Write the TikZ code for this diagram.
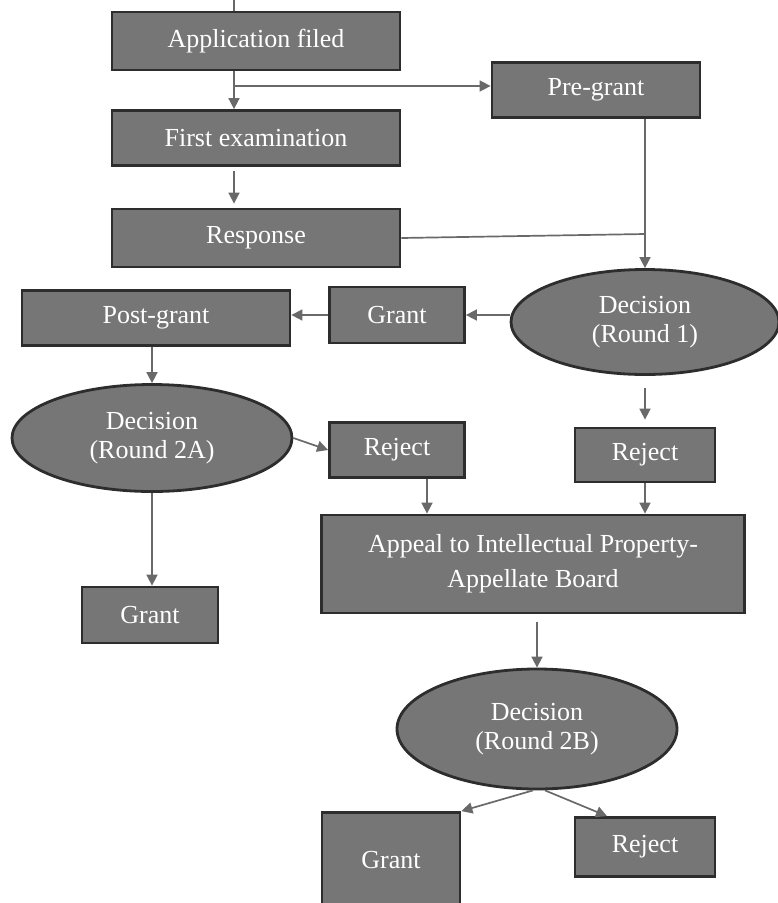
\documentclass[tikz,border=0pt]{standalone}
\usepackage{fontspec}
\setmainfont{Liberation Serif}
\usetikzlibrary{%
  shapes, shapes.geometric, arrows.meta,
  calc, positioning,
}
\definecolor{boxGray} {RGB}{118,118,118}
\definecolor{edgeGray}{RGB}{ 45, 45, 45}
\definecolor{lineGray}{RGB}{105,105,105}

\begin{document}
\begin{tikzpicture}[
  x=1pt, y=-1pt,
  box/.style={rectangle, fill=boxGray, draw=edgeGray, line width=2.8pt,
    text=white, align=center, inner sep=0pt,
    font=\fontsize{26}{30}\selectfont},
  dec/.style={ellipse, fill=boxGray, draw=edgeGray, line width=2.8pt,
    text=white, align=center, inner sep=0pt,
    font=\fontsize{26}{29}\selectfont},
  arr/.style={-{Triangle[length=11pt,width=11pt]}, draw=lineGray, line width=1.7pt},
  lin/.style={draw=lineGray, line width=1.7pt},
]
\useasboundingbox (0,0) rectangle (778,903);
\clip (0,0) rectangle (778,903);

%% ── Filing and examination ──────────────────────────────────────────────────
\node[box, minimum width=288pt, minimum height=58pt] (app)  at (256,41)  {Application filed};
\node[box, minimum width=288pt, minimum height=55pt] (exam) at (256,138) {First examination};
\node[box, minimum width=288pt, minimum height=58pt] (resp) at (256,238) {Response};
\node[box, minimum width=208pt, minimum height=55pt] (pre)  at (596,90)  {Pre-grant};

\coordinate (stub)  at (234,0);
\coordinate (split) at (234,86);
\coordinate (join)  at (645,234);

\draw[lin] (stub) -- (stub |- app.north);
\draw[arr] ([xshift=-22pt]app.south) -- ([xshift=-22pt]exam.north);
\draw[arr] (split) -- (split -| pre.west);
\draw[arr] ([xshift=-22pt,yshift=-4pt]exam.south) -- ([xshift=-22pt,yshift=4pt]resp.north);

%% ── Round 1 ─────────────────────────────────────────────────────────────────
\node[dec, minimum width=268pt, minimum height=105pt] (decA) at (645,322) {Decision\\(Round 1)};
\node[box, minimum width=135pt, minimum height=56pt] (grantA) at (397,315) {Grant};
\node[box, minimum width=268pt, minimum height=55pt] (post)   at (156,318) {Post-grant};
\node[box, minimum width=140pt, minimum height=54pt] (rejA)   at (645,455) {Reject};

\draw[arr] (pre.south -| decA.north) -- (decA.north);
\draw[lin] (resp.east) -- (join);
\draw[arr] (decA.west |- grantA.east) -- (grantA.east);
\draw[arr] (grantA.west) -- (grantA.west -| post.east);
\draw[arr] ([yshift=-12pt]decA.south) -- ([yshift=7pt]rejA.north);

%% ── Round 2A ────────────────────────────────────────────────────────────────
\node[dec, minimum width=280pt, minimum height=107pt] (decB) at (152,438) {Decision\\(Round 2A)};
\node[box, minimum width=135pt, minimum height=55pt] (rejB)   at (397,450) {Reject};
\node[box, minimum width=136pt, minimum height=56pt] (grantB) at (150,615) {Grant};

\draw[arr] (post.south -| decB.north) -- (decB.north);
\draw[arr] (decB.east) -- (rejB.west);
\draw[arr] (decB.south) -- (decB.south |- grantB.north);

%% ── Appeal and round 2B ─────────────────────────────────────────────────────
\node[box, minimum width=423pt, minimum height=98pt] (appeal) at (533,564)
  {Appeal to Intellectual Property-\\[5pt]Appellate Board};
\node[dec, minimum width=280pt, minimum height=120pt] (decC) at (537,729) {Decision\\(Round 2B)};
\node[box, minimum width=138pt, minimum height=95pt] (grantC) at (391,860) {Grant};
\node[box, minimum width=140pt, minimum height=59pt] (rejC)   at (645,847) {Reject};

\draw[arr] ([xshift=30pt]rejB.south) -- ([xshift=30pt]rejB.south |- appeal.north);
\draw[arr] (rejA.south) -- (rejA.south |- appeal.north);
\draw[arr] ([yshift=-8pt]appeal.south -| decC.north) -- (decC.north);
\draw[arr] ([xshift=-4pt]decC.south) -- (grantC.north east);
\draw[arr] ([xshift=8pt]decC.south) -- ([xshift=-38pt]rejC.north);

\end{tikzpicture}
\end{document}
